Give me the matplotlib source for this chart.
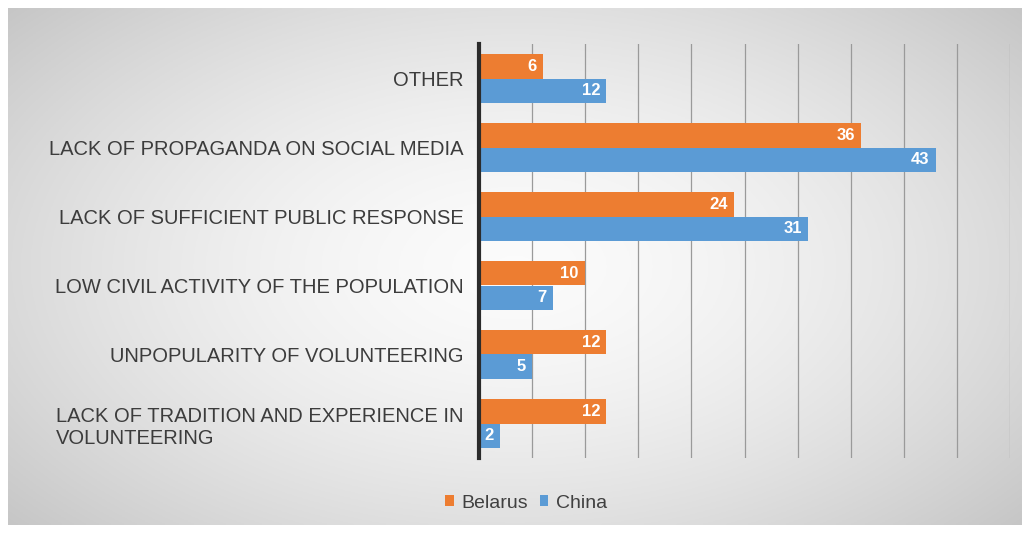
import numpy as np
import matplotlib.pyplot as plt

plt.rcParams['font.family'] = ['Liberation Sans', 'DejaVu Sans']

# Reasons for low volunteer engagement, share of respondents (%)
categories = [
    "OTHER",
    "LACK OF PROPAGANDA ON SOCIAL MEDIA",
    "LACK OF SUFFICIENT PUBLIC RESPONSE",
    "LOW CIVIL ACTIVITY OF THE POPULATION",
    "UNPOPULARITY OF VOLUNTEERING",
    "LACK OF TRADITION AND EXPERIENCE IN\nVOLUNTEERING",
]
belarus = [6, 36, 24, 10, 12, 12]
china = [12, 43, 31, 7, 5, 2]

orange = "#ED7D31"
blue = "#5B9BD5"

fig = plt.figure(figsize=(10.29, 5.33), dpi=100)

# gray radial gradient panel behind the chart: light centre, darker edges
bg = fig.add_axes([8 / 1029, 8 / 533, 1013 / 1029, 517 / 533])
yy, xx = np.mgrid[-1:1:200j, -1:1:400j]
r = np.sqrt((xx * 0.85) ** 2 + (yy * 0.75) ** 2)
shade = np.clip(0.985 - 0.17 * r ** 1.6, 0, 1)
bg.imshow(np.dstack([shade, shade, shade]), aspect="auto", extent=[0, 1, 0, 1])
bg.set_axis_off()

ax = fig.add_axes([479 / 1029, (533 - 458) / 533, (1010 - 479) / 1029, (458 - 44) / 533])
ax.patch.set_alpha(0)

y = np.arange(len(categories))
h = 0.36
ax.barh(y - h / 2, belarus, height=h, color=orange, label="Belarus", zorder=3)
ax.barh(y + h / 2, china, height=h, color=blue, label="China", zorder=3)

for yi, vb, vc in zip(y, belarus, china):
    ax.text(vb - 0.6, yi - h / 2, str(vb), color="white", fontsize=12,
            fontweight="bold", ha="right", va="center", zorder=4)
    ax.text(vc - 0.6, yi + h / 2, str(vc), color="white", fontsize=12,
            fontweight="bold", ha="right", va="center", zorder=4)

ax.set_xlim(0, 50)
ax.set_ylim(len(categories) - 0.5, -0.5)
ax.set_xticks(np.arange(0, 51, 5))
ax.set_xticklabels([])
ax.tick_params(axis="x", length=0)
ax.grid(axis="x", color="#9a9a9a", linewidth=0.9, zorder=0)

ax.set_yticks(y)
ax.set_yticklabels(categories, fontsize=14.5, color="#3c3c3c")
for lbl in ax.get_yticklabels():
    lbl.set_multialignment("left")
ax.tick_params(axis="y", length=0, pad=11)

for side in ["top", "right", "bottom"]:
    ax.spines[side].set_visible(False)
ax.spines["left"].set_color("#2b2b2b")
ax.spines["left"].set_linewidth(3)
ax.spines["left"].set_zorder(5)

fig.legend(loc="center", bbox_to_anchor=(526 / 1029, 1 - 503 / 533), ncol=2,
           frameon=False, fontsize=14, handlelength=0.45, handleheight=0.45,
           handletextpad=0.4, columnspacing=0.6, labelcolor="#404040")

fig.savefig("out.png", dpi=100)
